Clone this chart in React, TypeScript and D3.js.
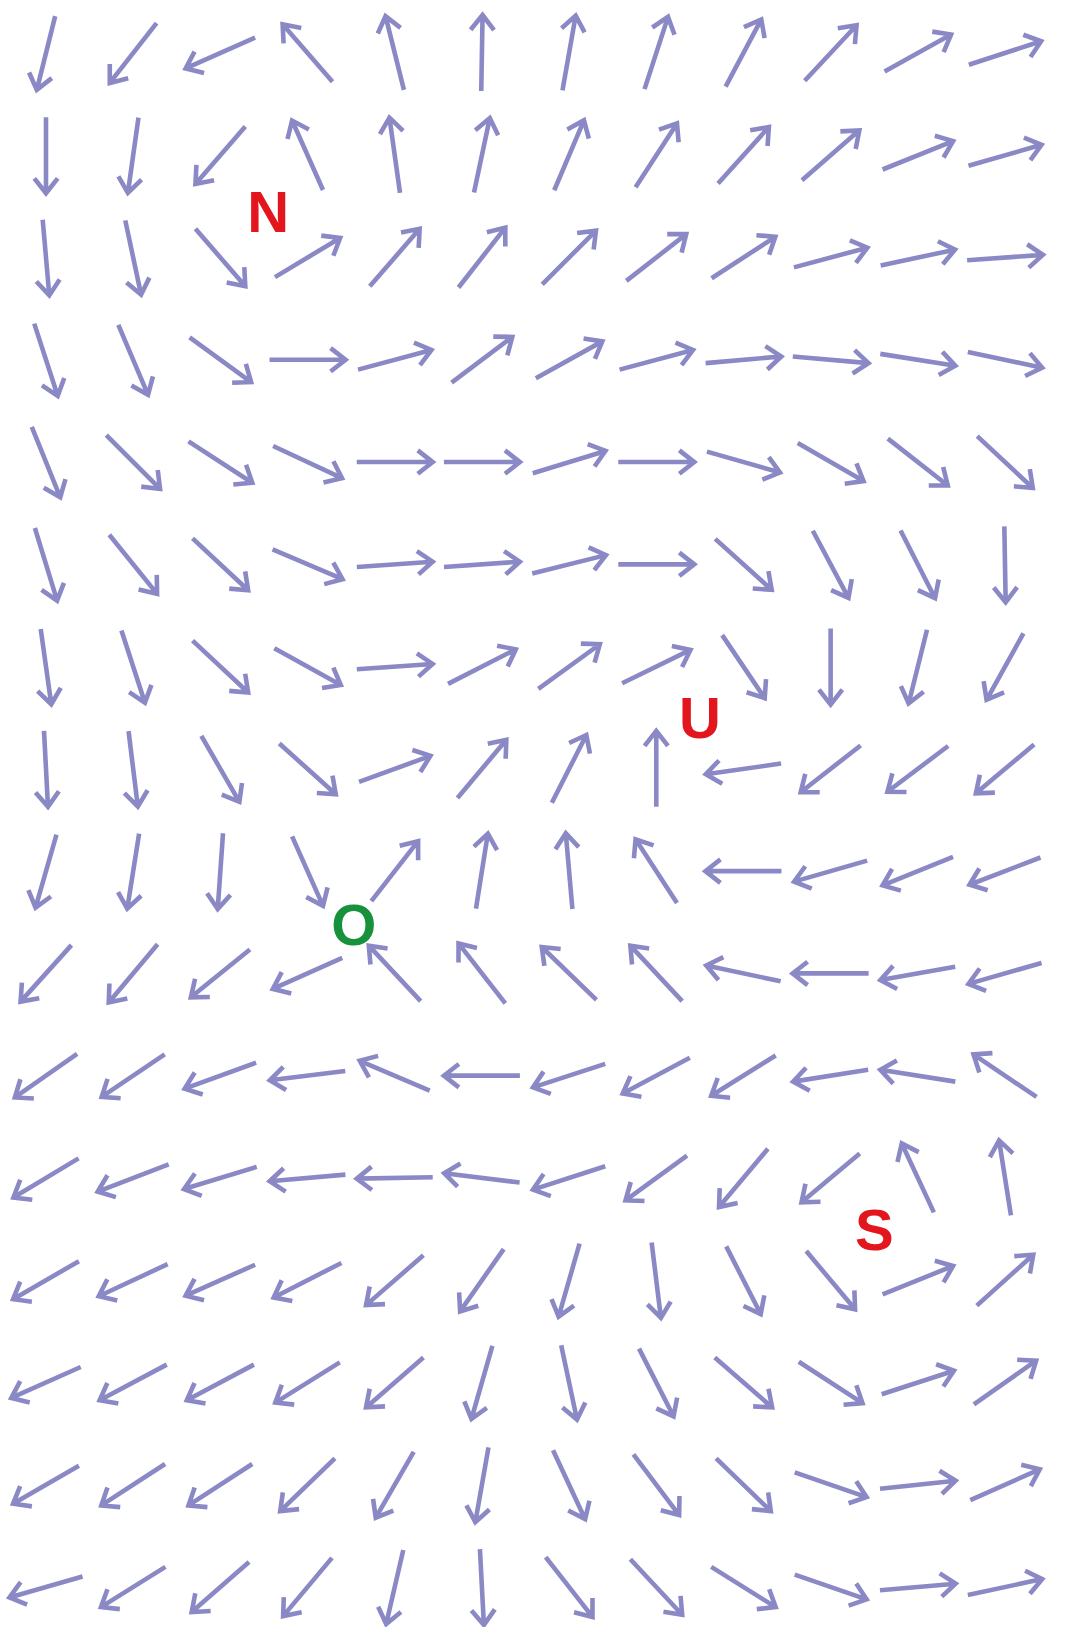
import React, { useEffect, useRef } from "react";
import * as d3 from "d3";

// grid: 12 columns x 16 rows, each cell holds one arrow direction
// angles in degrees, counter-clockwise from east (0 = right, 90 = up)
const colIds = [0, 1, 2, 3, 4, 5, 6, 7, 8, 9, 10, 11];
const rowIds = [0, 1, 2, 3, 4, 5, 6, 7, 8, 9, 10, 11, 12, 13, 14, 15];

const row0 = [256, 232, 204, 131, 104, 89, 80, 72, 62, 47, 29, 18];
const row1 = [270, 262, 229, 114, 98, 78, 67, 57, 48, 41, 22, 16];
const row2 = [275, 282, 311, 31, 49, 52, 45, 38, 33, 15, 12, 4];
const row3 = [288, 293, 324, 0, 15, 37, 29, 15, 5, 355, 351, 348];
const row4 = [292, 315, 327, 335, 0, 0, 17, 0, 344, 330, 322, 317];
const row5 = [287, 309, 317, 337, 4, 4, 14, 0, 318, 298, 297, 271];
const row6 = [278, 288, 317, 331, 4, 27, 36, 26, 304, 270, 256, 241];
const row7 = [273, 277, 300, 318, 20, 50, 63, 90, 188, 218, 217, 220];
const row8 = [254, 261, 266, 294, 52, 81, 95, 123, 180, 196, 202, 201];
const row9 = [228, 230, 219, 204, 133, 128, 136, 133, 168, 180, 190, 196];
const row10 = [215, 214, 200, 187, 157, 180, 198, 208, 212, 189, 171, 146];
const row11 = [211, 201, 197, 185, 181, 173, 198, 216, 230, 220, 115, 99];
const row12 = [210, 205, 204, 207, 221, 235, 254, 277, 297, 310, 22, 42];
const row13 = [204, 208, 208, 212, 221, 254, 282, 297, 319, 327, 18, 35];
const row14 = [210, 213, 213, 224, 240, 260, 295, 307, 316, 341, 6, 24];
const row15 = [196, 212, 221, 230, 257, 273, 308, 313, 328, 341, 5, 12];

const angleRows = [row0, row1, row2, row3, row4, row5, row6, row7,
  row8, row9, row10, row11, row12, row13, row14, row15];

// point labels, placed in grid units (col, row)
const labelText = ["N", "U", "O", "S"];
const labelCol = [2.55, 7.5, 3.53, 9.5];
const labelRow = [1.55, 6.5, 8.52, 11.5];
const labelColor = ["#e3151d", "#e3151d", "#17913b", "#e3151d"];

const width = 1066;
const height = 1627;

export default function App() {
  const ref = useRef<SVGSVGElement>(null);

  useEffect(() => {
    document.body.style.margin = "0";
    const svg = d3.select(ref.current);
    svg.selectAll("*").remove();

    const x = d3.scaleLinear().domain([0, 11]).range([46, 1005]);
    const y = d3.scaleLinear().domain([0, 15]).range([53, 1587]);

    const len = 76;
    const head = 19;
    const spread = (38 * Math.PI) / 180;

    const cells: { c: number; r: number; a: number }[] = [];
    rowIds.forEach((r) => {
      colIds.forEach((c) => {
        cells.push({ c, r, a: angleRows[r][c] });
      });
    });

    const arrowPath = (d: { c: number; r: number; a: number }) => {
      const rad = (d.a * Math.PI) / 180;
      const dx = Math.cos(rad);
      const dy = -Math.sin(rad);
      const cx = x(d.c);
      const cy = y(d.r);
      const tx = cx - (dx * len) / 2, ty = cy - (dy * len) / 2;
      const hx = cx + (dx * len) / 2, hy = cy + (dy * len) / 2;
      const back = Math.atan2(-dy, -dx);
      const a1x = hx + head * Math.cos(back + spread), a1y = hy + head * Math.sin(back + spread);
      const a2x = hx + head * Math.cos(back - spread), a2y = hy + head * Math.sin(back - spread);
      return `M${tx},${ty}L${hx},${hy}M${a1x},${a1y}L${hx},${hy}L${a2x},${a2y}`;
    };

    svg.append("g")
      .selectAll("path")
      .data(cells)
      .enter().append("path")
      .attr("d", arrowPath)
      .attr("fill", "none")
      .attr("stroke", "#8b89c5")
      .attr("stroke-width", 4.6)
      .attr("stroke-linejoin", "miter");

    svg.append("g")
      .selectAll("text")
      .data(labelText)
      .enter().append("text")
      .attr("x", (d, i) => x(labelCol[i]))
      .attr("y", (d, i) => y(labelRow[i]))
      .attr("text-anchor", "middle")
      .attr("dominant-baseline", "central")
      .attr("font-family", "'Liberation Sans', Arial, sans-serif")
      .attr("font-weight", "bold")
      .attr("font-size", 58)
      .attr("fill", (d, i) => labelColor[i])
      .text((d) => d);
  }, []);

  return (
    <svg
      ref={ref}
      width={width}
      height={height}
      style={{ position: "absolute", left: 0, top: 0, background: "#fff" }}
    />
  );
}
